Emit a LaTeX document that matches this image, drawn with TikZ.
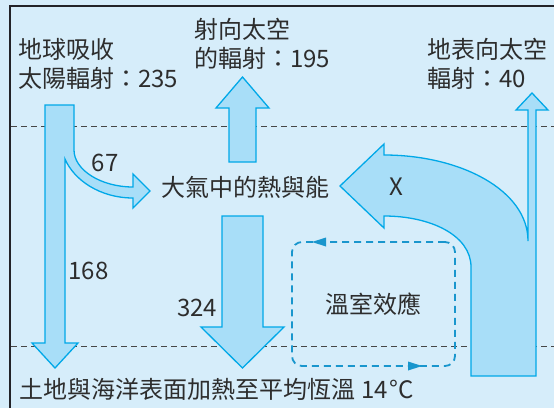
\documentclass[tikz,border=0pt]{standalone}
\usepackage{fontspec}
\setmainfont{Noto Sans CJK TC}
\definecolor{bgblue}{RGB}{214,237,250}
\definecolor{arrowfill}{RGB}{168,222,248}
\definecolor{arrowline}{RGB}{0,168,232}
\definecolor{ghblue}{RGB}{25,150,205}
\definecolor{sepgray}{RGB}{70,70,70}
\definecolor{txt}{RGB}{45,45,45}
\definecolor{framec}{RGB}{35,35,40}
\tikzset{
  flow/.style={draw=arrowline, fill=arrowfill, line width=1.3pt, line join=miter},
  lbl/.style={text=txt, inner sep=0pt, font=\fontsize{24}{29}\selectfont},
  sepline/.style={draw=sepgray, dash pattern=on 6pt off 4pt, line width=0.9pt},
  ghbox/.style={draw=ghblue, dash pattern=on 7pt off 5pt, line width=1.8pt, rounded corners=10pt},
  ghtip/.style={fill=ghblue},
  framel/.style={draw=framec, line width=2.5pt}
}
\begin{document}
\begin{tikzpicture}[x=1pt,y=-1pt]
\useasboundingbox (0,0) rectangle (554,408);
\fill[bgblue] (0,0) rectangle (554,408);
\draw[framel] (10,408) -- (10,6) -- (554,6);
% separator lines
\draw[sepline] (11,126) -- (554,126);
\draw[sepline] (11,346) -- (554,346);
% greenhouse loop
\node[ghbox, lbl, minimum width=163pt, minimum height=124pt, inner sep=0pt] (gh) at (373.5,304) {溫室效應};
\fill[ghtip] (312,242) -- (326,237.5) -- (326,246.5) -- cycle;
\fill[ghtip] (422,366) -- (408,361.5) -- (408,370.5) -- cycle;
% left arrow (235 -> 168 and 67)
\draw[flow] (45,105) -- (74,105) -- (74,150) .. controls (74,170) and (101,187) .. (133,187)
  -- (133,174) -- (150,191) -- (133,208) -- (133,198)
  .. controls (100,198) and (74,180) .. (65,159)
  -- (65,343) -- (78,343) -- (55,368) -- (32,343) -- (45,343) -- cycle;
% up arrow 195
\draw[flow] (229,162) -- (256,162) -- (256,108) -- (269,108) -- (242.5,77) -- (216,108) -- (229,108) -- cycle;
% down arrow 324
\draw[flow] (222,216) -- (263,216) -- (263,327) -- (284,327) -- (242.5,368) -- (201,327) -- (222,327) -- cycle;
% big curved arrow X with surface radiation 40
\draw[flow] (471,376) -- (536,376) -- (536,110) -- (548,110) -- (532,93) -- (516,110) -- (528,110) -- (528,241)
  .. controls (528,190) and (460,155) .. (384,155)
  -- (384,144) -- (340,186) -- (384,228) -- (384,216)
  .. controls (430,216) and (471,235) .. (471,267) -- cycle;
% labels
\node[lbl, anchor=base west] (l1a) at (18,58) {地球吸收};
\node[lbl, anchor=base west] (l1b) at (18,87) {太陽輻射：235};
\node[lbl, anchor=base west] (l2a) at (194,38) {射向太空};
\node[lbl, anchor=base west] (l2b) at (194,67) {的輻射：195};
\node[lbl, anchor=base west] (l3a) at (427,58) {地表向太空};
\node[lbl, anchor=base west] (l3b) at (427,87) {輻射：40};
\node[lbl, anchor=base west] (atm) at (161,196) {大氣中的熱與能};
\node[lbl] (n67) at (105,163) {67};
\node[lbl] (n168) at (88.5,271) {168};
\node[lbl] (n324) at (197,307.5) {324};
\node[lbl] (nx) at (396.5,186.5) {X};
\node[lbl, anchor=base west] (bottom) at (19,398) {土地與海洋表面加熱至平均恆溫\hspace{6pt}14\hspace{2pt}°C};
\end{tikzpicture}
\end{document}
